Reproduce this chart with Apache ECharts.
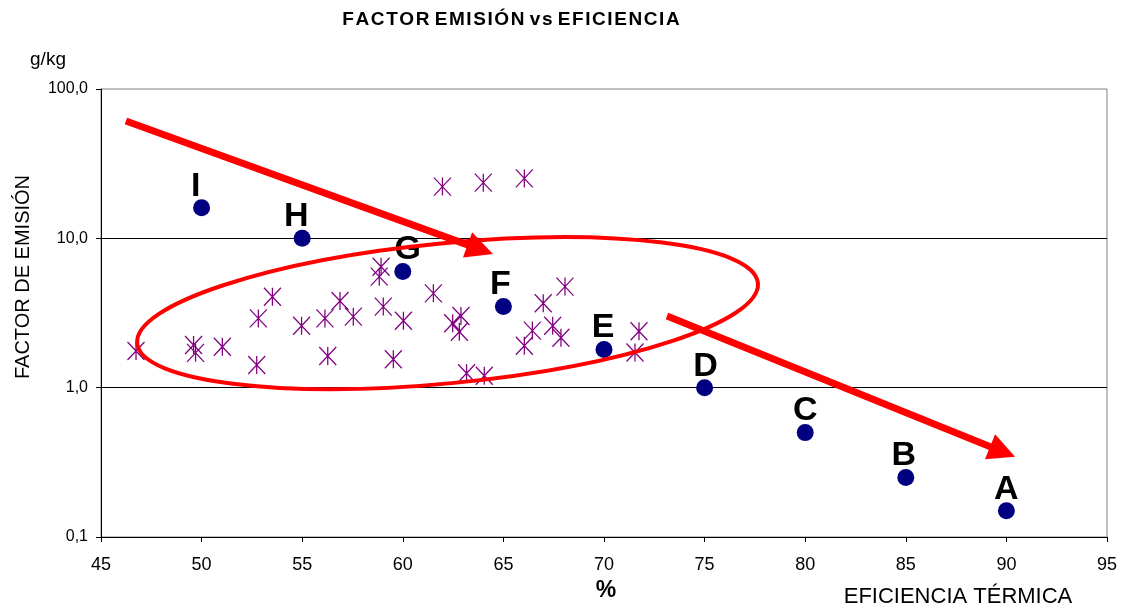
<!DOCTYPE html>
<html><head><meta charset="utf-8">
<script src="https://cdn.jsdelivr.net/npm/echarts@6/dist/echarts.min.js"></script>
<style>html,body{margin:0;padding:0;background:#fff}#c{width:1125px;height:610px}</style>
</head><body><div id="c"></div>
<script>
// ---- data ----
const fuenteNombres = ['A','B','C','D','E','F','G','H','I'];
const fuenteEficiencia = [90, 85, 80, 75, 70, 65, 60, 55, 50];
const fuenteFactor = [0.15, 0.25, 0.5, 1.0, 1.8, 3.5, 6.0, 10, 16];

const medidasEficiencia = [46.74, 49.6, 49.7, 51.03, 52.74, 52.82, 53.52, 54.97, 56.27, 56.13, 56.88, 57.54, 59.03, 59.53, 60.03, 58.92, 58.83, 61.52, 61.97, 64.0, 66.04, 62.89, 62.48, 62.81, 63.17, 64.05, 66.98, 68.06, 66.44, 67.45, 67.86, 66.04, 71.74, 71.54];
const medidasFactor = [1.76, 1.93, 1.71, 1.88, 1.42, 2.91, 4.06, 2.60, 1.63, 2.91, 3.80, 2.99, 3.49, 1.55, 2.81, 6.46, 5.54, 4.28, 22.2, 23.6, 25.2, 3.02, 2.70, 2.37, 1.25, 1.20, 3.67, 4.75, 2.41, 2.60, 2.16, 1.91, 2.39, 1.72];

const yTickLabels = ['0,1', '1,0', '10,0', '100,0'];
const xTickLabels = ['45','50','55','60','65','70','75','80','85','90','95'];
const tituloTexto = 'FACTOR EMISIÓN vs EFICIENCIA';

// annotation anchors (data coordinates)
const flecha1 = [[46.24, 61.0], [64.48, 7.85]];
const flecha2 = [[73.13, 3.02], [90.43, 0.344]];
const elipseExtremos = [[46.80, 1.98], [77.65, 5.02]];

// ---- styling (not data) ----
const FONT = '"Liberation Sans", Arial, sans-serif';
const labelDx = [0, -2, 0, 1, -1, -3, 5, -6, -6];
const tituloEspaciado = tituloTexto.split(' ').map(w => w.split('').join('\u200A')).join(' ');

const chart = echarts.init(document.getElementById('c'));

const option = {
  animation: false,
  grid: { left: 101, right: 18, top: 89, bottom: 73, show: true, borderColor: '#808080', borderWidth: 1, backgroundColor: '#fff' },
  xAxis: {
    type: 'value', min: 45, max: 95, interval: 5,
    axisLine: { show: true, onZero: false, lineStyle: { color: '#000', width: 1 } },
    axisTick: { show: true, length: 5, lineStyle: { color: '#000' } },
    axisLabel: { fontFamily: FONT, fontSize: 18, color: '#000', margin: 19,
      formatter: v => xTickLabels[Math.round((v - 45) / 5)] },
    splitLine: { show: false }
  },
  yAxis: {
    type: 'log', logBase: 10, min: 0.1, max: 100,
    axisLine: { show: true, onZero: false, lineStyle: { color: '#000', width: 1 } },
    axisTick: { show: true, length: 5, lineStyle: { color: '#000' } },
    axisLabel: { fontFamily: FONT, fontSize: 16, color: '#000', margin: 13,
      formatter: v => yTickLabels[Math.round(Math.log10(v)) + 1] },
    splitLine: { show: true, showMaxLine: false, showMinLine: false, lineStyle: { color: '#000', width: 1 } },
    minorTick: { show: false }, minorSplitLine: { show: false }
  },
  series: [
    {
      type: 'scatter', name: 'medidas',
      symbol: 'path://M0,0L20,20M20,0L0,20M10,0L10,20',
      symbolSize: [17, 18],
      itemStyle: { color: 'rgba(0,0,0,0)', borderColor: '#800080', borderWidth: 1.3, opacity: 1 },
      data: medidasEficiencia.map((x, i) => [x, medidasFactor[i]]),
      z: 3
    },
    {
      type: 'scatter', name: 'fuentes',
      symbol: 'circle', symbolSize: 17,
      itemStyle: { color: '#000080', opacity: 1 },
      label: { show: true, position: 'top', distance: -4, fontFamily: FONT, fontSize: 34, fontWeight: 'bold', color: '#000',
        formatter: p => p.name },
      data: fuenteEficiencia.map((x, i) => ({ name: fuenteNombres[i], value: [x, fuenteFactor[i]], label: { offset: [labelDx[i], 0] } })),
      z: 4
    }
  ]
};
chart.setOption(option);

function px(p) { return chart.convertToPixel({ gridIndex: 0 }, p); }

function arrow(p0, p1) {
  const S = px(p0), T = px(p1);
  const dx = T[0] - S[0], dy = T[1] - S[1];
  const len = Math.hypot(dx, dy);
  const ux = dx / len, uy = dy / len;
  const headL = 27, headW = 13.5;
  const bx = T[0] - ux * headL, by = T[1] - uy * headL;
  const nx = -uy, ny = ux;
  return [
    { type: 'line', z: 10, shape: { x1: S[0], y1: S[1], x2: bx + ux * 3, y2: by + uy * 3 }, style: { stroke: '#ff0000', lineWidth: 7 } },
    { type: 'polygon', z: 10, shape: { points: [[T[0], T[1]], [bx + nx * headW, by + ny * headW], [bx - nx * headW, by - ny * headW]] }, style: { fill: '#ff0000' } }
  ];
}

const L = px(elipseExtremos[0]), R = px(elipseExtremos[1]);
const ecx = (L[0] + R[0]) / 2, ecy = (L[1] + R[1]) / 2;
const erx = Math.hypot(R[0] - L[0], R[1] - L[1]) / 2;
const erot = -Math.atan2(R[1] - L[1], R[0] - L[0]);

const graphics = [
  { type: 'ellipse', z: 9, x: ecx, y: ecy, rotation: erot, shape: { cx: 0, cy: 0, rx: erx, ry: 70 }, style: { fill: 'none', stroke: '#ff0000', lineWidth: 4 } },
  ...arrow(flecha1[0], flecha1[1]),
  ...arrow(flecha2[0], flecha2[1]),
  { type: 'text', x: 511, y: 20, style: { text: tituloEspaciado, font: 'bold 19px ' + FONT, fill: '#000', align: 'center', verticalAlign: 'middle' } },
  { type: 'text', x: 48, y: 60, style: { text: 'g/kg', font: '19px ' + FONT, fill: '#000', align: 'center', verticalAlign: 'middle' } },
  { type: 'text', x: 23, y: 277, rotation: Math.PI / 2, style: { text: 'FACTOR DE EMISIÓN', font: '20px ' + FONT, fill: '#000', align: 'center', verticalAlign: 'middle' } },
  { type: 'text', x: 606, y: 591, style: { text: '%', font: 'bold 23px ' + FONT, fill: '#000', align: 'center', verticalAlign: 'middle' } },
  { type: 'text', x: 958, y: 597, style: { text: 'EFICIENCIA TÉRMICA', font: '22px ' + FONT, fill: '#000', align: 'center', verticalAlign: 'middle' } }
];
chart.setOption({ graphic: graphics });
</script>
</body></html>
